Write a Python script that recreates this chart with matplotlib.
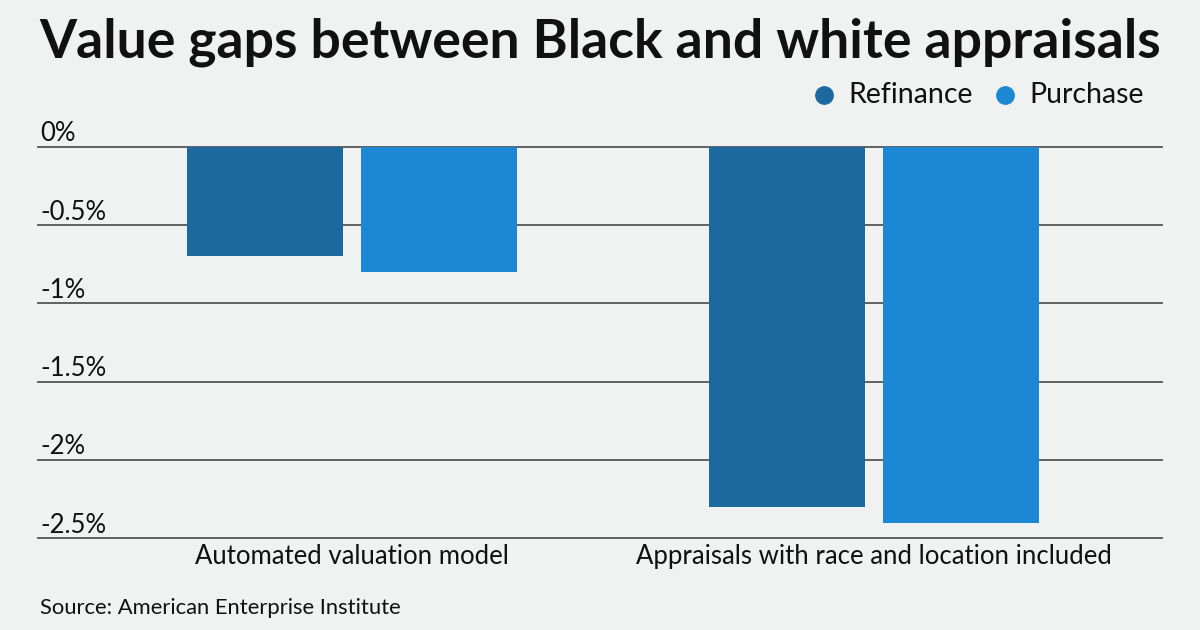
import matplotlib.pyplot as plt
from matplotlib.lines import Line2D
import numpy as np

# data (percent gap, Black vs white appraisals)
categories = ['Automated valuation model', 'Appraisals with race and location included']
refinance = [-0.7, -2.3]
purchase = [-0.8, -2.4]
yticks = [0, -0.5, -1, -1.5, -2, -2.5]
ytick_labels = ['0%', '-0.5%', '-1%', '-1.5%', '-2%', '-2.5%']

bg = '#f0f1f1'
c_ref = '#1b699f'
c_pur = '#1c87d3'
plt.rcParams['font.family'] = ['Lato', 'DejaVu Sans']

fig = plt.figure(figsize=(12, 6.3), dpi=100, facecolor=bg)
ax = fig.add_axes([0.0317, 0.1455, 0.9366, 0.6215])
ax.set_facecolor(bg)

x = np.arange(len(categories))
w = 0.299
off = 0.1667
ax.bar(x - off, refinance, w, color=c_ref, zorder=3)
ax.bar(x + off, purchase, w, color=c_pur, zorder=3)

ax.set_xlim(-0.6015, 1.552)
ax.set_ylim(-2.5, 0)

# gridlines + labels sitting above each line
for v, lab in zip(yticks, ytick_labels):
    ax.axhline(v, color='#555555', lw=1.3, zorder=1, clip_on=False)
    ax.annotate(lab, xy=(0, v), xycoords=('axes fraction', 'data'),
                xytext=(1.5, 4), textcoords='offset points',
                ha='left', va='baseline', fontsize=18.5, color='#111111')

ax.set_yticks([])
ax.set_xticks(x)
ax.set_xticklabels(categories, fontsize=18.5, color='#111111')
ax.tick_params(axis='x', length=0, pad=4)
for s in ax.spines.values():
    s.set_visible(False)

# title, legend, source
fig.text(0.033, 0.972, 'Value gaps between Black and white appraisals',
         fontsize=38.5, fontweight='bold', color='#111111', ha='left', va='top')
fig.text(0.0333, 0.025, 'Source: American Enterprise Institute',
         fontsize=15.8, color='#111111', ha='left', va='baseline')

ly = 1 - 95 / 630
for cx, tx, col, lab in [(824, 848, c_ref, 'Refinance'), (1005, 1029, c_pur, 'Purchase')]:
    fig.add_artist(Line2D([cx / 1200], [ly], marker='o', markersize=12.5,
                          color=col, lw=0, transform=fig.transFigure))
    fig.text(tx / 1200, ly, lab, fontsize=20.5, color='#111111',
             ha='left', va='center')

fig.savefig('out.png', dpi=100, facecolor=bg)
